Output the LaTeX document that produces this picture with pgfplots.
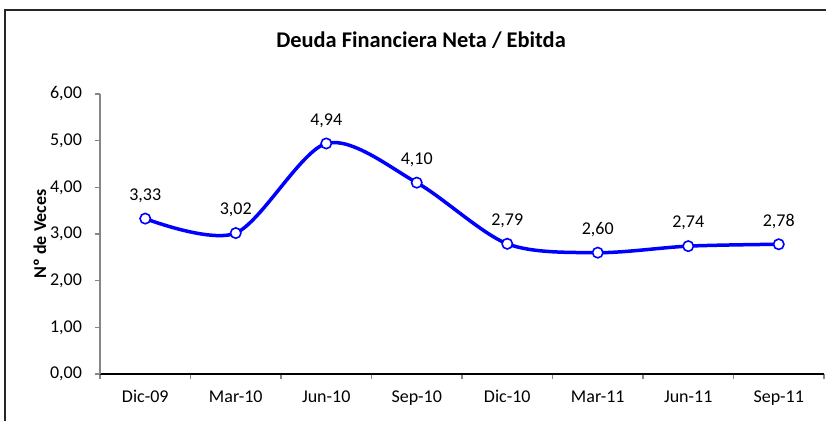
\documentclass[border=0pt]{standalone}
\usepackage{pgfplots}
\pgfplotsset{compat=1.18}
\usepackage{fontspec}
\setmainfont{Carlito}
\definecolor{lineblue}{RGB}{0,0,255}
\definecolor{axgray}{RGB}{134,134,134}
\begin{document}
\begin{tikzpicture}
\useasboundingbox (-50pt,-23.5pt) rectangle (363pt,187pt);
\clip (-50pt,-23.5pt) rectangle (363pt,187pt);
\draw[line width=1pt,black!85] (-47.5pt,-40pt) -- (-47.5pt,182pt) -- (400pt,182pt);
\node[font=\bfseries\fontsize{11.2}{13}\selectfont] at (160.5pt,167pt) {Deuda Financiera Neta / Ebitda};
\begin{axis}[
  at={(0pt,0pt)}, anchor=south west,
  scale only axis, width=362pt, height=140pt,
  xmin=-0.5, xmax=7.5, ymin=0, ymax=6,
  axis x line*=bottom, axis y line*=left,
  x axis line style={-, black, line width=0.6pt},
  y axis line style={-, axgray, line width=0.6pt},
  xtick={-0.5,0.5,1.5,2.5,3.5,4.5,5.5,6.5,7.5},
  xticklabels={},
  extra x ticks={0,1,2,3,4,5,6,7},
  extra x tick labels={Dic-09,Mar-10,Jun-10,Sep-10,Dic-10,Mar-11,Jun-11,Sep-11},
  extra x tick style={major tick length=0pt},
  major tick length=2.5pt,
  ytick={0,1,2,3,4,5,6},
  tick style={axgray, line width=0.6pt},
  tick align=outside,
  /pgf/number format/use comma,
  /pgf/number format/fixed,
  /pgf/number format/fixed zerofill,
  /pgf/number format/precision=2,
  /pgf/number format/assume math mode=true,
  yticklabel style={font=\fontsize{9}{11}\selectfont, xshift=-3pt},
  xticklabel style={font=\fontsize{9}{11}\selectfont, anchor=base, yshift=-14.5pt},
  ylabel={Nº de Veces},
  ylabel style={font=\bfseries\fontsize{9}{11}\selectfont, at={(axis description cs:-0.083,0.5)}, anchor=center},
  clip=false,
]
\addplot[color=lineblue, line width=1.75pt, smooth, tension=0.5,
  mark=*, mark size=2.6pt, mark options={fill=white, draw=lineblue, line width=0.8pt},
  point meta=y,
  nodes near coords={\pgfmathprintnumber{\pgfplotspointmeta}},
  every node near coord/.append style={font=\fontsize{9}{11}\selectfont, color=black, anchor=center, yshift=11.5pt}]
coordinates {(0,3.33) (1,3.02) (2,4.94) (3,4.10) (4,2.79) (5,2.60) (6,2.74) (7,2.78)};
\end{axis}
\end{tikzpicture}
\end{document}
